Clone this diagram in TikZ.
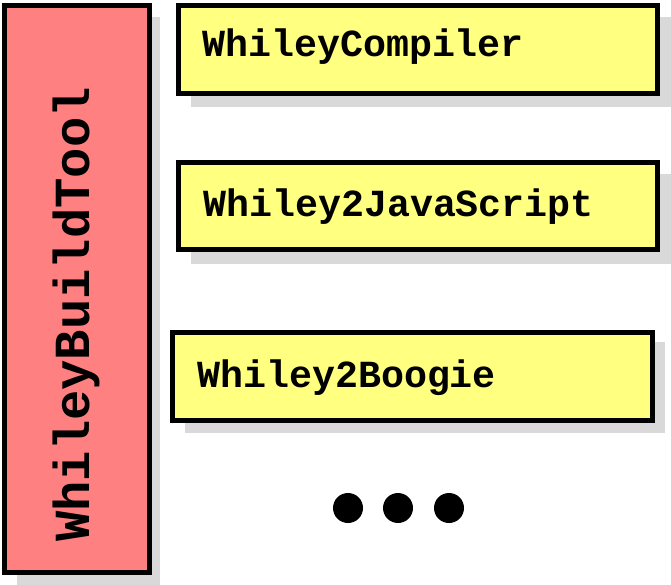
\documentclass[tikz,border=0pt]{standalone}
\usepackage{fontspec}
\newfontfamily\monob[BoldFont={Liberation Mono Bold}]{Liberation Mono}
\definecolor{redfill}{RGB}{255,128,128}
\definecolor{yelfill}{RGB}{255,255,128}
\definecolor{shadowc}{RGB}{217,217,217}
\begin{document}
\begin{tikzpicture}[x=1pt,y=-1pt,
  box/.style={draw=black,line width=5pt,inner sep=0pt,outer sep=0pt,anchor=north west},
  lbl/.style={inner sep=0pt,anchor=base west,font=\monob\bfseries\fontsize{38.3}{41}\selectfont},
  dot/.style={circle,fill=black,inner sep=0pt,minimum size=30pt}]
\useasboundingbox (0,0) rectangle (671,585);
% shadows
\fill[shadowc] (17,17) rectangle (160,585);
\fill[shadowc] (191,17) rectangle (671,107);
\fill[shadowc] (191,174) rectangle (671,264);
\fill[shadowc] (185,342) rectangle (665,433);
% boxes
\node[box,fill=redfill,minimum width=145pt,minimum height=567pt] (tool) at (4.5,5.5) {};
\node[box,fill=yelfill,minimum width=479pt,minimum height=88pt] (b1) at (178.5,5.5) {};
\node[box,fill=yelfill,minimum width=479pt,minimum height=87pt] (b2) at (178.5,162.5) {};
\node[box,fill=yelfill,minimum width=480pt,minimum height=88pt] (b3) at (172.5,332.5) {};
% labels
\node[lbl,font=\monob\bfseries\fontsize{50.5}{54}\selectfont,rotate=90] (tl) at (89,542) {WhileyBuildTool};
\node[lbl] (t1) at (202,57) {WhileyCompiler};
\node[lbl] (t2) at (203,217) {Whiley2JavaScript};
\node[lbl] (t3) at (197,387) {Whiley2Boogie};
% dots
\node[dot] (d1) at (348,508) {};
\node[dot] (d2) at (398,508) {};
\node[dot] (d3) at (449,508) {};
\end{tikzpicture}
\end{document}
